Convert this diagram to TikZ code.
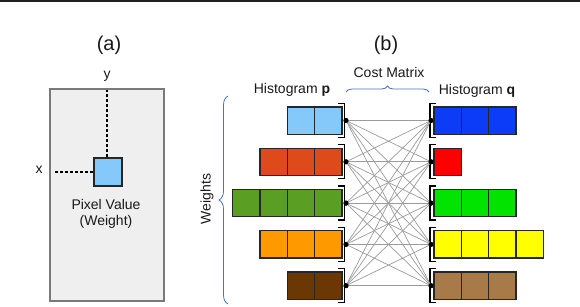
\documentclass[tikz,border=0pt]{standalone}
\usepackage{fontspec}
\setmainfont{Liberation Sans}
\usepackage{xcolor}
\usepackage{tikz}
\usetikzlibrary{calc,decorations.pathreplacing}
\definecolor{RuleDark}  {RGB}{ 35, 31, 32}
\definecolor{FrameGray} {RGB}{122,122,122}
\definecolor{PanelGray} {RGB}{239,239,239}
\definecolor{LinkGray}  {RGB}{155,155,155}
\definecolor{BraceBlue} {RGB}{ 68,114,196}
\definecolor{SkyBlue}   {RGB}{133,200,250}
\definecolor{Rust}      {RGB}{221, 75, 26}
\definecolor{Leaf}      {RGB}{ 90,158, 35}
\definecolor{Amber}     {RGB}{255,153,  0}
\definecolor{Umber}     {RGB}{107, 55,  5}
\definecolor{Royal}     {RGB}{ 12, 60,245}
\definecolor{Scarlet}   {RGB}{255,  0,  0}
\definecolor{Lime}      {RGB}{  0,228,  0}
\definecolor{Lemon}     {RGB}{255,255,  0}
\definecolor{Tan}       {RGB}{168,122, 72}
\begin{document}
\begin{tikzpicture}[x=1pt,y=-1pt,
      txt/.style={font=\fontsize{14}{16}\selectfont,text=black!90,inner sep=0pt,align=center},
      cell/.style={rectangle,draw=black!85,line width=1.3pt,minimum size=27.3pt,inner sep=0pt},
      dot/.style={circle,fill=black,minimum size=5pt,inner sep=0pt},
      bracket/.style={black,line width=1.3pt},
      link/.style={LinkGray,line width=0.7pt},
      guide/.style={black,line width=1.5pt,dash pattern=on 3pt off 2pt},
      curly/.style={BraceBlue,line width=0.8pt,decorate}]
    \useasboundingbox (0,0) rectangle (580,306);
    \fill[RuleDark] (0,0) rectangle (580,2);
    % (a) image plane
    \node[txt,font=\fontsize{20}{22}\selectfont](A) at (109,45){(a)};
    \draw[FrameGray,fill=PanelGray,line width=2pt] (50,89) rectangle (164,301);
    \node[cell,fill=SkyBlue,minimum size=28pt,line width=1.2pt](px) at (108,172){};
    \node[txt](ylab) at (107,76){y};
    \node[txt](xlab) at (39,170){x};
    \coordinate (ytop) at (107,90);
    \coordinate (xleft) at (54,172);
    \draw[guide] (px.north -| ytop) -- (ytop);
    \draw[guide] (px.west) -- (xleft);
    \node[txt](pv) at (106,214){Pixel Value\\(Weight)};
    % (b) histograms
    \node[txt,font=\fontsize{20}{22}\selectfont](B) at (386,45){(b)};
    \node[txt](cm) at (389,72){Cost Matrix};
    \node[txt](hp) at (292,90){Histogram \textbf{p}};
    \node[txt](hq) at (477,91){Histogram \textbf{q}};
    \node[txt,rotate=90](w) at (207,199){Weights};
    \draw[curly,decoration={brace,amplitude=6pt}] (346,92) -- (429,92);
    \draw[curly,decoration={brace,amplitude=9pt}] (228,304) -- (228,96);
    \foreach \n/\c [count=\i] in {2/SkyBlue,3/Rust,4/Leaf,3/Amber,2/Umber}{
      \node[dot](P\i) at (346,{120.5+41.3*(\i-1)}){};
      \foreach \k in {1,...,\n}
        \node[cell,fill=\c](p\i-\k) at ({342-27.3*(\k-0.5)},{120.5+41.3*(\i-1)}){};
      \draw[bracket] ($(P\i)+(-8,-17)$) -- ++(6.5,0) -- ++(0,34) -- ++(-6.5,0);
    }
    \foreach \n/\c [count=\i] in {3/Royal,1/Scarlet,3/Lime,4/Lemon,3/Tan}{
      \node[dot](Q\i) at (431,{120.5+41.3*(\i-1)}){};
      \foreach \k in {1,...,\n}
        \node[cell,fill=\c](q\i-\k) at ({434+27.3*(\k-0.5)},{120.5+41.3*(\i-1)}){};
      \draw[bracket] ($(Q\i)+(5,-17)$) -- ++(-6,0) -- ++(0,34) -- ++(6,0);
    }
    \foreach \i in {1,...,5}
      \foreach \j in {1,...,5}
        \draw[link] (P\i.center) -- (Q\j.center);
    \foreach \i in {1,...,5}{
      \node[dot] at (P\i){};
      \node[dot] at (Q\i){};
    }
  \end{tikzpicture}
\end{document}
